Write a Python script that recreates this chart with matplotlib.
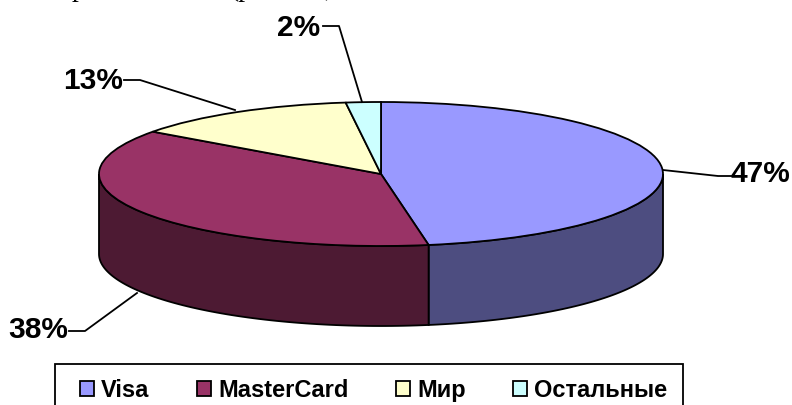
import numpy as np
import matplotlib
matplotlib.use("Agg")
import matplotlib.pyplot as plt
from matplotlib.patches import Rectangle
from matplotlib.transforms import Affine2D

plt.rcParams['font.family'] = ['Liberation Sans', 'DejaVu Sans']

labels = ["Visa", "MasterCard", "Мир", "Остальные"]
values = [47.3, 37.7, 13, 2]
top_colors = ["#9999FF", "#993366", "#FFFFCC", "#CCFFFF"]
side_colors = ["#4D4D80", "#4D1A33", "#808066", "#668080"]
pct_labels = ["47%", "38%", "13%", "2%"]

# ellipse geometry in pixels, y measured up from the bottom of the picture
W, H = 792, 405
cx, cy = 381, H - 174
rx, ry = 282, 72
depth = 80

fig = plt.figure(figsize=(W / 100, H / 100), dpi=100)
ax = fig.add_axes([0, 0, 1, 1])

squash = Affine2D().scale(rx, ry).translate(cx, cy) + ax.transData

edges = np.cumsum([0] + values) / sum(values) * 2 * np.pi

# side wall, only the front half of the ellipse shows
for i in range(len(values)):
    start = max(edges[i], np.pi / 2)
    end = min(edges[i + 1], 3 * np.pi / 2)
    if end <= start:
        continue
    t = np.linspace(start, end, 80)
    xs = cx + rx * np.sin(t)
    ys = cy + ry * np.cos(t)
    ax.fill(np.r_[xs, xs[::-1]], np.r_[ys, ys[::-1] - depth],
            facecolor=side_colors[i], edgecolor="black", lw=1.3, zorder=1)

wedges, _ = ax.pie(values, colors=top_colors, startangle=90, counterclock=False,
                   wedgeprops={"edgecolor": "black", "linewidth": 1.3})
for w in wedges:
    w.set_transform(squash)
    w.set_zorder(2)
    w.set_clip_on(False)

ax.set_aspect("auto")
ax.set_xlim(0, W)
ax.set_ylim(0, H)
ax.axis("off")

# labels with leader lines
label_pos = [(760, 174), (38, 330), (93, 81), (299, 28)]
leaders = [
    [(663, 170), (718, 176), (732, 176)],
    [(137, 293), (85, 331), (69, 331)],
    [(235, 110), (140, 80), (124, 80)],
    [(362, 102), (339, 26), (323, 26)],
]
for txt, pos, pts in zip(pct_labels, label_pos, leaders):
    ax.text(pos[0], H - pos[1], txt, fontsize=21.5, fontweight="bold",
            ha="center", va="center", zorder=4)
    ax.plot([p[0] for p in pts], [H - p[1] for p in pts], color="black", lw=1.3, zorder=3)

# sentence above the chart is cut by the top edge, only descenders show
for x, piece in [(72, "р"), (230, "(р"), (324, "),")]:
    ax.text(x, H + 4.5, piece, family="Liberation Serif", fontsize=20, va="baseline", ha="left")

# legend frame runs off the bottom edge of the picture
ax.add_patch(Rectangle((55, -20), 628, H - 364 + 20, facecolor="white",
                       edgecolor="black", lw=1.3, zorder=5))
leg = ax.legend(wedges, labels, ncol=4, loc="upper left",
                bbox_to_anchor=(80, H - 379), bbox_transform=ax.transData,
                frameon=False, prop={"size": 17, "weight": "bold"},
                handlelength=0.6, handleheight=0.6, handletextpad=0.3,
                columnspacing=2.0, borderaxespad=0, borderpad=0)
leg.set_zorder(6)

fig.savefig("out.png", dpi=100)
